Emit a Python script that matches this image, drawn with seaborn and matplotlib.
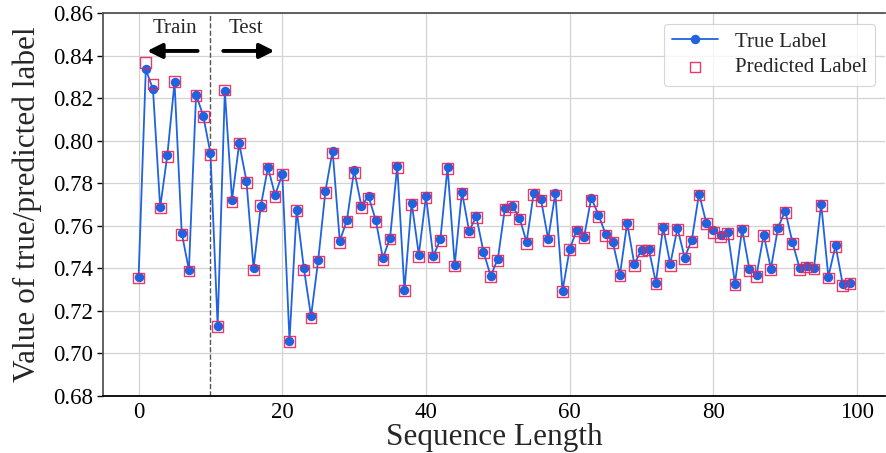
import numpy as np
import pandas as pd
import seaborn as sns
import matplotlib
matplotlib.use("Agg")
import matplotlib.pyplot as plt

seq = list(range(100))
true_label = [0.7362, 0.8336, 0.8243, 0.7687, 0.7933, 0.8275, 0.7567, 0.7393, 0.8218, 0.8117,
              0.7941, 0.7131, 0.8234, 0.7723, 0.7988, 0.7813, 0.7401, 0.7692, 0.7875, 0.7745,
              0.7844, 0.7061, 0.7676, 0.7401, 0.7174, 0.7440, 0.7763, 0.7954, 0.7529, 0.7628,
              0.7863, 0.7695, 0.7739, 0.7628, 0.7448, 0.7545, 0.7882, 0.7297, 0.7710, 0.7465,
              0.7740, 0.7457, 0.7537, 0.7876, 0.7416, 0.7760, 0.7576, 0.7645, 0.7478, 0.7365,
              0.7445, 0.7686, 0.7695, 0.7639, 0.7524, 0.7756, 0.7725, 0.7538, 0.7753, 0.7295,
              0.7491, 0.7583, 0.7548, 0.7732, 0.7653, 0.7561, 0.7524, 0.7371, 0.7614, 0.7420,
              0.7489, 0.7492, 0.7333, 0.7595, 0.7420, 0.7589, 0.7451, 0.7534, 0.7752, 0.7616,
              0.7580, 0.7558, 0.7570, 0.7329, 0.7586, 0.7398, 0.7368, 0.7559, 0.7399, 0.7592,
              0.7671, 0.7523, 0.7402, 0.7411, 0.7402, 0.7705, 0.7361, 0.7508, 0.7326, 0.7332]
pred_label = [0.7355, 0.8370, 0.8267, 0.7684, 0.7927, 0.8281, 0.7561, 0.7388, 0.8215, 0.8113,
              0.7935, 0.7127, 0.8239, 0.7712, 0.7990, 0.7806, 0.7393, 0.7695, 0.7871, 0.7737,
              0.7841, 0.7058, 0.7672, 0.7393, 0.7167, 0.7434, 0.7756, 0.7943, 0.7521, 0.7622,
              0.7853, 0.7687, 0.7728, 0.7622, 0.7443, 0.7539, 0.7876, 0.7297, 0.7700, 0.7457,
              0.7733, 0.7454, 0.7532, 0.7870, 0.7412, 0.7752, 0.7572, 0.7638, 0.7475, 0.7362,
              0.7438, 0.7677, 0.7690, 0.7633, 0.7518, 0.7748, 0.7718, 0.7532, 0.7746, 0.7292,
              0.7488, 0.7576, 0.7544, 0.7721, 0.7644, 0.7555, 0.7521, 0.7366, 0.7609, 0.7413,
              0.7484, 0.7487, 0.7329, 0.7587, 0.7413, 0.7582, 0.7448, 0.7528, 0.7746, 0.7611,
              0.7570, 0.7548, 0.7563, 0.7324, 0.7580, 0.7392, 0.7363, 0.7554, 0.7395, 0.7586,
              0.7664, 0.7516, 0.7395, 0.7407, 0.7397, 0.7696, 0.7355, 0.7505, 0.7320, 0.7328]
y_ticks = [0.68, 0.70, 0.72, 0.74, 0.76, 0.78, 0.80, 0.82, 0.84, 0.86]
x_ticks = [0, 20, 40, 60, 80, 100]
split_at = 10

sns.set_theme(style="whitegrid")
plt.rcParams['font.family'] = ['Liberation Serif', 'DejaVu Serif']
plt.rcParams['mathtext.fontset'] = 'stix'

df = pd.DataFrame({"seq": seq, "true": true_label, "pred": pred_label})

fig = plt.figure(figsize=(8.86, 4.53), dpi=100)
ax = fig.add_axes([0.1163, 0.1258, 0.8831, 0.8448])

sns.lineplot(data=df, x="seq", y="true", ax=ax, color="#1f63e0", linewidth=1.3,
             marker="o", markersize=6.8, markeredgewidth=0, label="True Label", zorder=3)
sns.scatterplot(data=df, x="seq", y="pred", ax=ax, marker="s", s=60,
                facecolors="none", edgecolor="#e8245a", linewidth=1.0, alpha=0.9,
                label="Predicted Label", zorder=4)

ax.axvline(split_at, color="#555555", linestyle="--", linewidth=1.0, zorder=2)

ax.set_ylim(0.68, 0.86)
ax.set_yticks(y_ticks)
ax.set_yticklabels([f"{v:.2f}" for v in y_ticks])
ax.set_xticks(x_ticks)
ax.set_xlim(-4.95, 103.95)

ax.grid(True, color="#d3d3d3", linewidth=0.9)
for side in ["left", "top"]:
    ax.spines[side].set_color("#555555")
    ax.spines[side].set_linewidth(1.3)
ax.spines["bottom"].set_color("black")
ax.spines["bottom"].set_linewidth(1.3)
ax.spines["right"].set_visible(False)

ax.tick_params(axis="y", labelsize=16.5, colors="black", length=4, width=1, left=True, pad=3)
ax.tick_params(axis="x", labelsize=16.5, colors="black", length=0, pad=4)
ax.set_xlabel("Sequence Length", fontsize=22.5, labelpad=0)
ax.set_ylabel("Value of true/predicted label", fontsize=22.5, labelpad=8)

ax.annotate("", xy=(0.8, 0.8423), xytext=(8.6, 0.8423),
            arrowprops=dict(arrowstyle="-|>", color="black", lw=2.8, mutation_scale=22))
ax.annotate("", xy=(19.3, 0.8423), xytext=(11.4, 0.8423),
            arrowprops=dict(arrowstyle="-|>", color="black", lw=2.8, mutation_scale=22))
ax.text(5.0, 0.8530, "Train", ha="center", va="center", fontsize=15)
ax.text(15.0, 0.8530, "Test", ha="center", va="center", fontsize=15)

leg = ax.legend(loc="upper right", fontsize=15, frameon=True, fancybox=True,
                borderaxespad=0.5, handlelength=2.2, labelspacing=0.3)
leg.get_frame().set_edgecolor("#cccccc")
leg.get_frame().set_linewidth(0.8)

fig.savefig("out.png", dpi=100)
